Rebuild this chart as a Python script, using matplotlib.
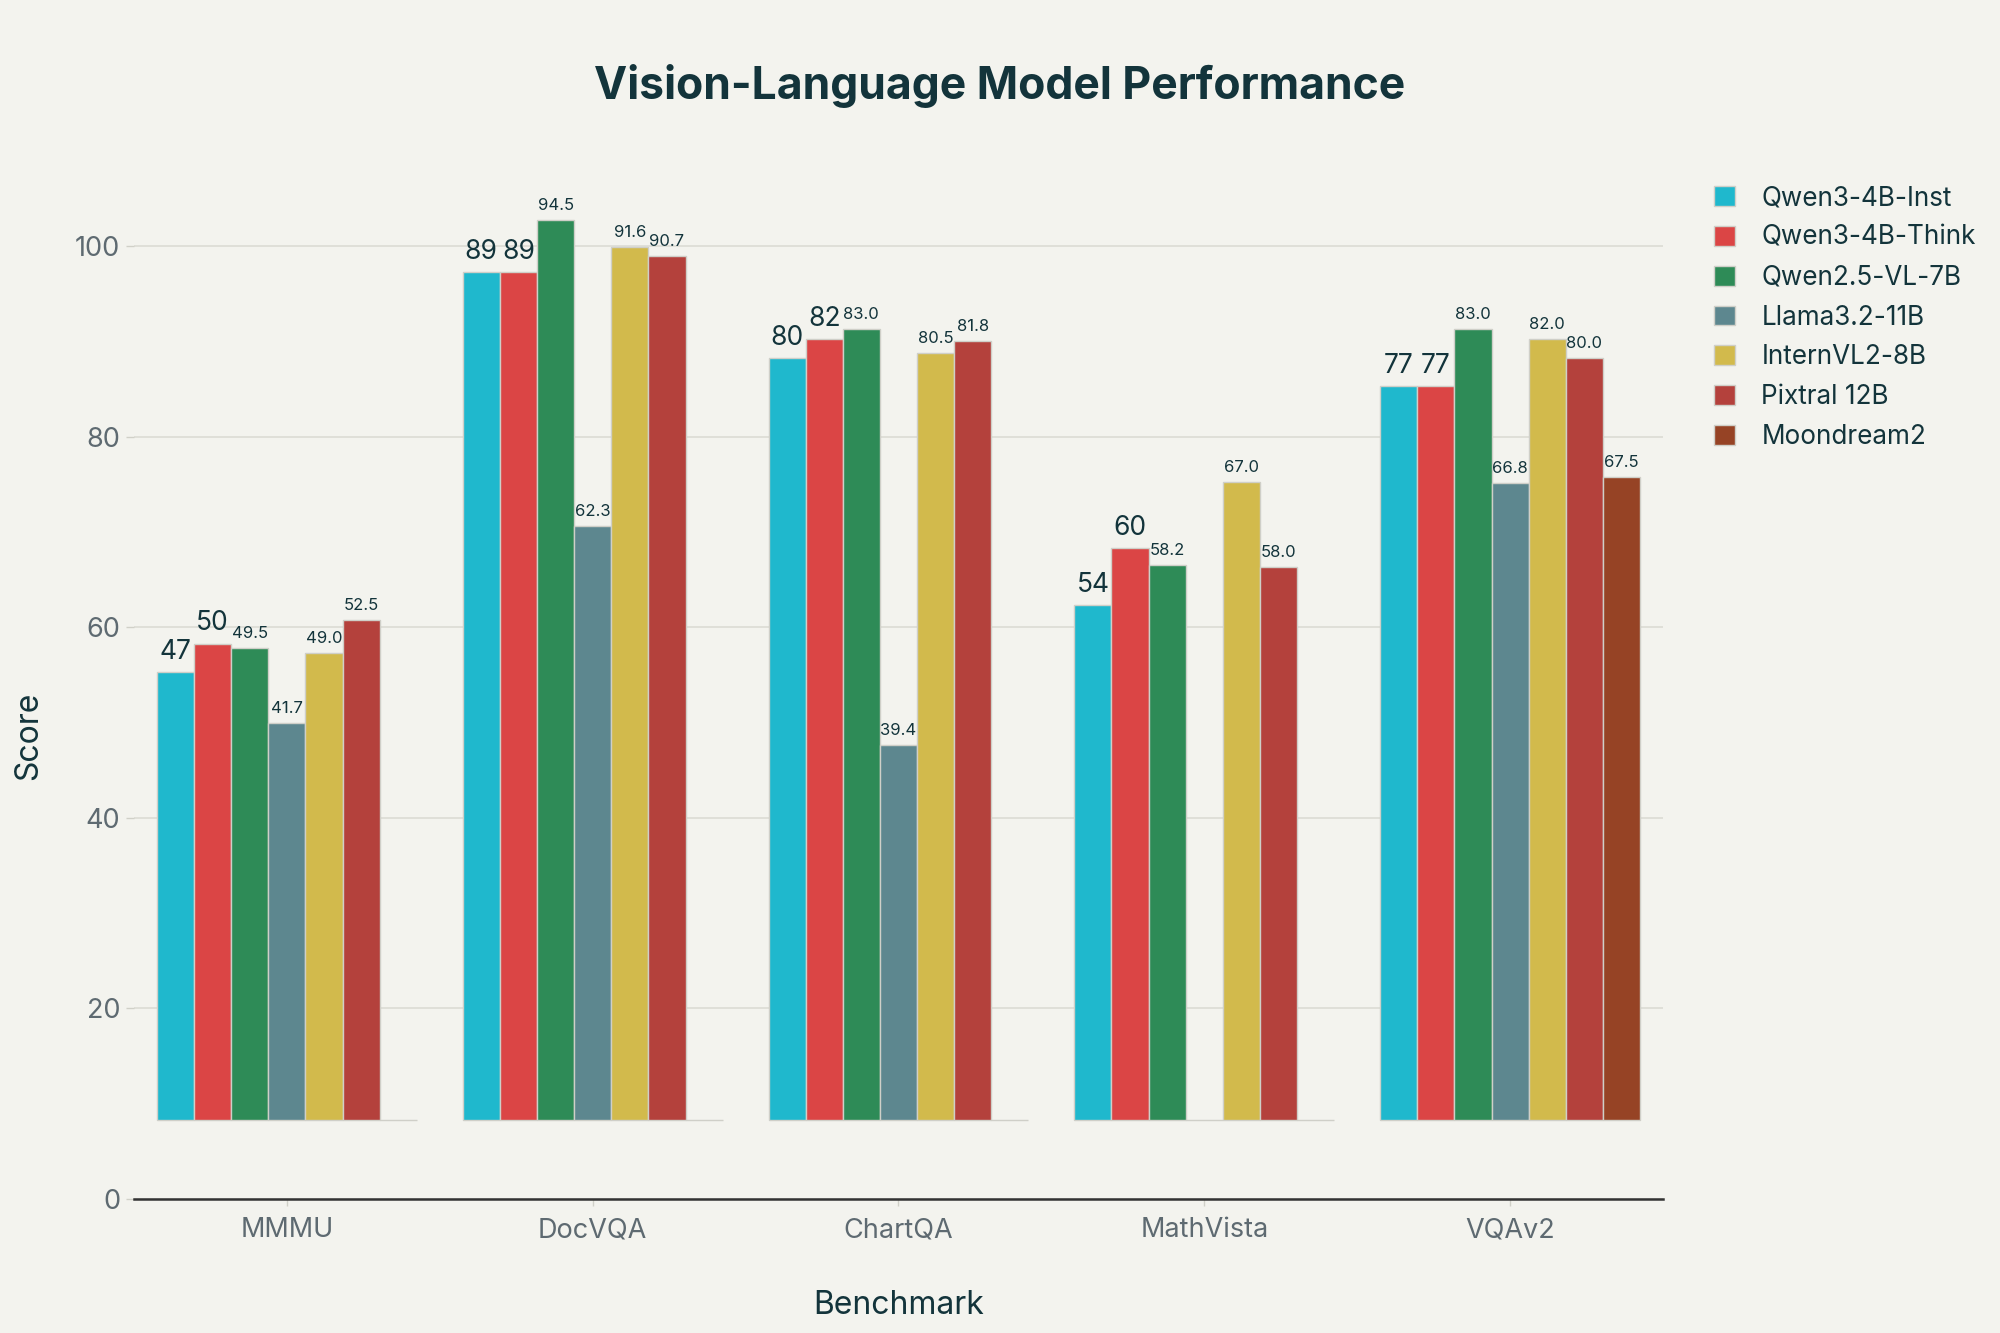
import numpy as np
import matplotlib.pyplot as plt

plt.rcParams['font.family'] = ['Inter', 'DejaVu Sans']

# Benchmarks and scores (None = not reported)
benchmarks = ['MMMU', 'DocVQA', 'ChartQA', 'MathVista', 'VQAv2']
models = ['Qwen3-4B-Inst', 'Qwen3-4B-Think', 'Qwen2.5-VL-7B', 'Llama3.2-11B',
          'InternVL2-8B', 'Pixtral 12B', 'Moondream2']

qwen3_inst = [47, 89, 80, 54, 77]
qwen3_think = [50, 89, 82, 60, 77]
qwen25_vl = [49.5, 94.5, 83.0, 58.2, 83.0]
llama32 = [41.7, 62.3, 39.4, None, 66.8]
internvl2 = [49.0, 91.6, 80.5, 67.0, 82.0]
pixtral = [52.5, 90.7, 81.8, 58.0, 80.0]
moondream2 = [None, None, None, None, 67.5]

series = [qwen3_inst, qwen3_think, qwen25_vl, llama32, internvl2, pixtral, moondream2]
label_fmt = ['{:.0f}', '{:.0f}', '{:.1f}', '{:.1f}', '{:.1f}', '{:.1f}', '{:.1f}']
colors = ['#1FB8CD', '#DB4545', '#2E8B57', '#5D878F', '#D2BA4C', '#B4413C', '#964325']

bg = '#F3F3EE'
text_c = '#13343B'
tick_c = '#5E6A71'
base = 8.3

fig = plt.figure(figsize=(20, 13.33), dpi=100, facecolor=bg)
ax = fig.add_axes([0.067, 0.1005, 0.7645, 0.772])
ax.set_facecolor(bg)

x = np.arange(len(benchmarks))
w = 0.85 / len(models)

for j, (name, vals) in enumerate(zip(models, series)):
    pos = x + (j - (len(models) - 1) / 2) * w
    heights = [v if v is not None else 0 for v in vals]
    ax.bar(pos, heights, width=w, bottom=base, color=colors[j],
           edgecolor='#CFCFC8', linewidth=1.0, label=name, zorder=3)
    for xi, v in zip(pos, vals):
        if v is None:
            continue
        txt = label_fmt[j].format(v)
        if '.' in txt:
            fs, off = 12, 7.2
        else:
            fs, off = 19, 9.4
        ax.annotate(txt, (xi, base + v), xytext=(0, off), textcoords='offset points',
                    ha='center', va='baseline', fontsize=fs, color=text_c, zorder=4)

ax.set_xlim(-0.5, len(benchmarks) - 0.5)
ax.set_ylim(0, 108)
ax.set_yticks([0, 20, 40, 60, 80, 100])
ax.set_xticks(x)
ax.set_xticklabels(benchmarks)
ax.grid(axis='y', color='#DCDCD4', linewidth=1.2, zorder=0)
ax.set_axisbelow(True)

for s in ['top', 'right', 'left']:
    ax.spines[s].set_visible(False)
ax.spines['bottom'].set_color('#333333')
ax.spines['bottom'].set_linewidth(1.8)
ax.spines['bottom'].set_zorder(5)

ax.tick_params(axis='y', length=6, width=1, color='#D0D0C8', pad=4,
               labelsize=19.5, labelcolor=tick_c)
ax.tick_params(axis='x', length=5, width=1, color='#D0D0C8', pad=8,
               labelsize=19.5, labelcolor=tick_c)

ax.set_xlabel('Benchmark', fontsize=23, color=text_c, labelpad=34)
ax.set_ylabel('Score', fontsize=23, color=text_c)
ax.yaxis.set_label_coords(-0.059, 0.45)

fig.suptitle('Vision-Language Model Performance', fontsize=32, fontweight='bold',
             color=text_c, x=0.5, y=0.952)

leg = ax.legend(loc='upper left', bbox_to_anchor=(0.852, 0.869), bbox_transform=fig.transFigure,
                frameon=False, fontsize=18.8, handlelength=0.8, handleheight=0.8,
                handletextpad=1.0, labelspacing=0.53, borderaxespad=0)
for t in leg.get_texts():
    t.set_color(text_c)

plt.savefig('out.png', dpi=100, facecolor=bg)
